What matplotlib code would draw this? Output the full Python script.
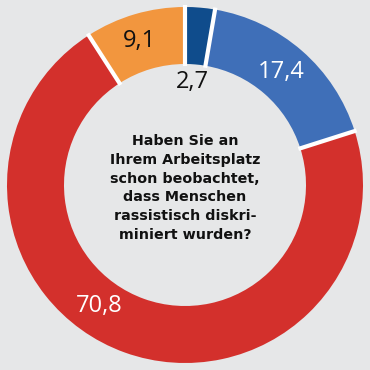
import numpy as np
import matplotlib.pyplot as plt

# shares in percent, clockwise from the top
values = [2.7, 17.4, 70.8, 9.1]
labels = ['2,7', '17,4', '70,8', '9,1']
colors = ['#0f4c8c', '#3f6fb8', '#d3302c', '#f2963e']
label_colors = ['#111111', 'white', 'white', '#111111']
question = ('Haben Sie an\nIhrem Arbeitsplatz\nschon beobachtet,\n'
            'dass Menschen\nrassistisch diskri-\nminiert wurden?')

bg = '#e6e7e8'
W = 370
fig = plt.figure(figsize=(3.7, 3.7), dpi=100, facecolor=bg)
ax = fig.add_axes([0, 0, 1, 1])
ax.set_facecolor(bg)

cx, cy = 185, 185
r_out = 178
r_in = 121

wedges, _ = ax.pie(values, colors=colors, startangle=90, counterclock=False,
                   center=(cx, cy), radius=r_out, frame=True,
                   wedgeprops=dict(width=r_out - r_in, linewidth=0))
ax.set_xlim(0, W)
ax.set_ylim(0, W)
ax.set_aspect('equal')
ax.axis('off')

# white gaps between the slices
cum = np.cumsum([0] + values[:-1])
for c in cum:
    ang = np.deg2rad(90 - c / sum(values) * 360)
    ax.plot([cx + (r_in - 2) * np.cos(ang), cx + (r_out + 2) * np.cos(ang)],
            [cy + (r_in - 2) * np.sin(ang), cy + (r_out + 2) * np.sin(ang)],
            color='white', linewidth=3, solid_capstyle='butt')

# label positions in pixel coords of the picture (y from top)
label_pos = [(192, 82), (281, 72), (99, 306), (139, 41)]
for lab, (px, py), c in zip(labels, label_pos, label_colors):
    ax.text(px, W - py, lab, color=c, fontsize=17, ha='center', va='center',
            family='Open Sans')

ax.text(cx, W - 188, question, ha='center', va='center', fontsize=10.3,
        fontweight='bold', color='#111111', linespacing=1.42, family='DejaVu Sans')

fig.savefig('out.png', dpi=100, facecolor=bg)
